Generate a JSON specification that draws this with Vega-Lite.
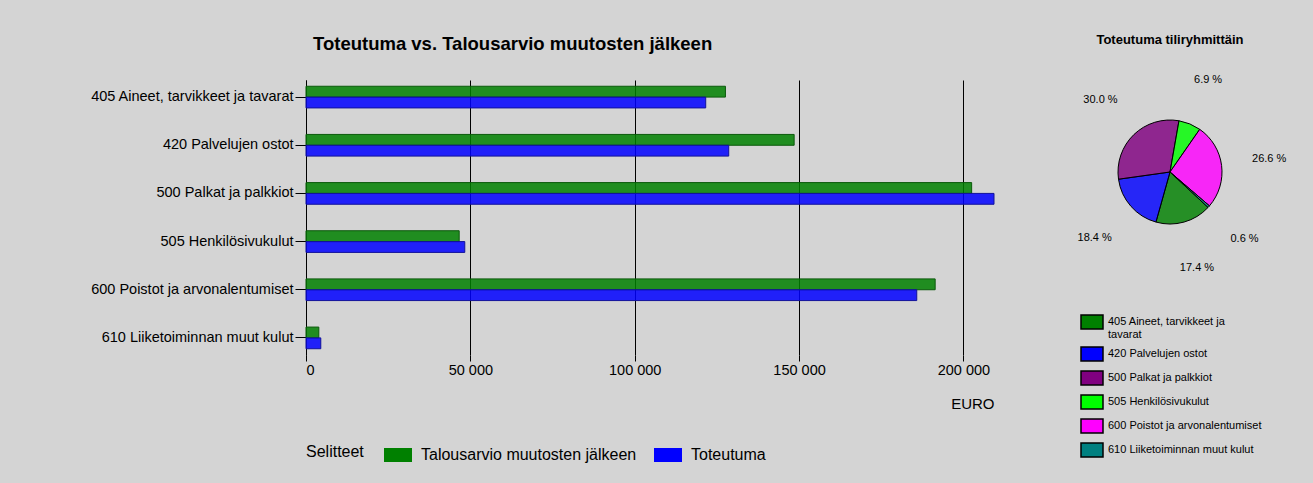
{
  "$schema": "https://vega.github.io/schema/vega-lite/v6.json",
  "background": "#d4d4d4",
  "padding": {"left": 89, "top": 33, "right": 30, "bottom": 22},
  "bounds": "flush",
  "spacing": 86,
  "datasets": {
    "bars": [
      {"ryhma": "405 Aineet, tarvikkeet ja tavarat", "sarja": "Talousarvio muutosten jälkeen", "euro": 127600},
      {"ryhma": "405 Aineet, tarvikkeet ja tavarat", "sarja": "Toteutuma", "euro": 121600},
      {"ryhma": "420 Palvelujen ostot", "sarja": "Talousarvio muutosten jälkeen", "euro": 148500},
      {"ryhma": "420 Palvelujen ostot", "sarja": "Toteutuma", "euro": 128600},
      {"ryhma": "500 Palkat ja palkkiot", "sarja": "Talousarvio muutosten jälkeen", "euro": 202500},
      {"ryhma": "500 Palkat ja palkkiot", "sarja": "Toteutuma", "euro": 209300},
      {"ryhma": "505 Henkilösivukulut", "sarja": "Talousarvio muutosten jälkeen", "euro": 46600},
      {"ryhma": "505 Henkilösivukulut", "sarja": "Toteutuma", "euro": 48300},
      {"ryhma": "600 Poistot ja arvonalentumiset", "sarja": "Talousarvio muutosten jälkeen", "euro": 191400},
      {"ryhma": "600 Poistot ja arvonalentumiset", "sarja": "Toteutuma", "euro": 185800},
      {"ryhma": "610 Liiketoiminnan muut kulut", "sarja": "Talousarvio muutosten jälkeen", "euro": 3900},
      {"ryhma": "610 Liiketoiminnan muut kulut", "sarja": "Toteutuma", "euro": 4500}
    ],
    "pie": [
      {"nro": 1, "ryhma": "405 Aineet, tarvikkeet ja tavarat", "euro": 121600, "osuus": "17.4 %"},
      {"nro": 2, "ryhma": "420 Palvelujen ostot", "euro": 128600, "osuus": "18.4 %"},
      {"nro": 3, "ryhma": "500 Palkat ja palkkiot", "euro": 209300, "osuus": "30.0 %"},
      {"nro": 4, "ryhma": "505 Henkilösivukulut", "euro": 48300, "osuus": "6.9 %"},
      {"nro": 5, "ryhma": "600 Poistot ja arvonalentumiset", "euro": 185800, "osuus": "26.6 %"},
      {"nro": 6, "ryhma": "610 Liiketoiminnan muut kulut", "euro": 4500, "osuus": "0.6 %"}
    ]
  },
  "hconcat": [
    {
      "width": 688,
      "height": 275,
      "title": {"text": "Toteutuma vs. Talousarvio muutosten jälkeen", "anchor": "start", "frame": "group", "dx": 7, "font": "Liberation Sans", "fontSize": 18.5, "fontWeight": "bold", "color": "black", "offset": 27},
      "data": {"name": "bars"},
      "mark": {"type": "bar", "fillOpacity": 0.85, "strokeWidth": 1},
      "encoding": {
        "y": {"field": "ryhma", "type": "nominal", "sort": null,
          "scale": {"paddingInner": 0.55, "paddingOuter": 0.13},
          "axis": {"title": null, "domain": true, "domainColor": "black", "ticks": true, "tickColor": "black", "tickSize": 11, "labelFont": "Liberation Sans", "labelFontSize": 14.5, "labelColor": "black", "labelPadding": 2, "labelLimit": 400}},
        "yOffset": {"field": "sarja", "type": "nominal", "sort": null, "scale": {"paddingInner": 0, "paddingOuter": 0}},
        "x": {"field": "euro", "type": "quantitative", "scale": {"nice": false, "zero": true},
          "axis": {"title": "EURO", "titleAnchor": "end", "titleFont": "Liberation Sans", "titleFontSize": 15, "titleFontWeight": "normal", "titleColor": "black", "titlePadding": 20,
            "values": [0, 50000, 100000, 150000, 200000], "format": ",d",
            "domain": false, "ticks": true, "tickColor": "black", "tickSize": 6,
            "grid": true, "gridColor": "black", "gridOpacity": 1, "gridWidth": 1,
            "labelFont": "Liberation Sans", "labelFontSize": 14.5, "labelColor": "black", "labelPadding": 2}},
        "color": {"field": "sarja", "type": "nominal", "sort": null,
          "scale": {"domain": ["Talousarvio muutosten jälkeen", "Toteutuma"], "range": ["#008000", "#0000ff"]},
          "legend": {"orient": "bottom", "direction": "horizontal", "title": "Selitteet", "titleOrient": "left", "titleFont": "Liberation Sans", "titleFontSize": 16, "titleFontWeight": "normal", "titleColor": "black", "titlePadding": 20,
            "labelFont": "Liberation Sans", "labelFontSize": 16, "labelColor": "black", "labelOffset": 9, "labelLimit": 400,
            "symbolType": "M-1,-0.5L1,-0.5L1,0.5L-1,0.5Z", "symbolSize": 784, "symbolStrokeWidth": 0, "symbolOpacity": 1, "columnPadding": 17, "offset": 29}},
        "stroke": {"field": "sarja", "type": "nominal", "sort": null,
          "scale": {"domain": ["Talousarvio muutosten jälkeen", "Toteutuma"], "range": ["#0b5a0b", "#12129a"]},
          "legend": null}
      }
    },
    {
      "width": 180,
      "height": 184,
      "title": {"text": "Toteutuma tiliryhmittäin", "font": "Liberation Sans", "fontSize": 13, "fontWeight": "bold", "color": "black", "offset": 27},
      "data": {"name": "pie"},
      "layer": [
        {
          "mark": {"type": "arc", "outerRadius": 52, "stroke": "black", "strokeWidth": 1, "fillOpacity": 0.82},
          "encoding": {
            "theta": {"field": "euro", "type": "quantitative", "stack": true, "scale": {"range": [2.321, 8.604]}},
            "order": {"field": "nro", "type": "quantitative"},
            "color": {"field": "ryhma", "type": "nominal", "sort": null,
              "scale": {"domain": ["405 Aineet, tarvikkeet ja tavarat", "420 Palvelujen ostot", "500 Palkat ja palkkiot", "505 Henkilösivukulut", "600 Poistot ja arvonalentumiset", "610 Liiketoiminnan muut kulut"],
                "range": ["#008000", "#0000ff", "#800080", "#00ff00", "#ff00ff", "#008080"]},
              "legend": {"orient": "bottom", "direction": "vertical", "title": null, "offset": 46,
                "labelFont": "Liberation Sans", "labelFontSize": 11, "labelColor": "black", "labelLineHeight": 17, "labelOffset": 4, "labelLimit": 300,
                "labelExpr": "datum.label == '405 Aineet, tarvikkeet ja tavarat' ? ['405 Aineet, tarvikkeet ja', 'tavarat'] : datum.label",
                "symbolType": "M-1,-0.636L1,-0.636L1,0.636L-1,0.636Z", "symbolSize": 484, "symbolStrokeColor": "black", "symbolStrokeWidth": 1.5, "symbolOpacity": 1, "rowPadding": 2}}
          }
        },
        {
          "mark": {"type": "text", "radius": 100, "font": "Liberation Sans", "fontSize": 11, "color": "black"},
          "encoding": {
            "theta": {"field": "euro", "type": "quantitative", "stack": true},
            "order": {"field": "nro", "type": "quantitative"},
            "text": {"field": "osuus", "type": "nominal"}
          }
        }
      ]
    }
  ],
  "resolve": {"scale": {"color": "independent", "stroke": "independent"}, "legend": {"color": "independent"}},
  "config": {
    "locale": {"number": {"decimal": ",", "thousands": " ", "grouping": [3], "currency": ["", " €"]}},
    "view": {"stroke": null},
    "font": "Liberation Sans"
  }
}
